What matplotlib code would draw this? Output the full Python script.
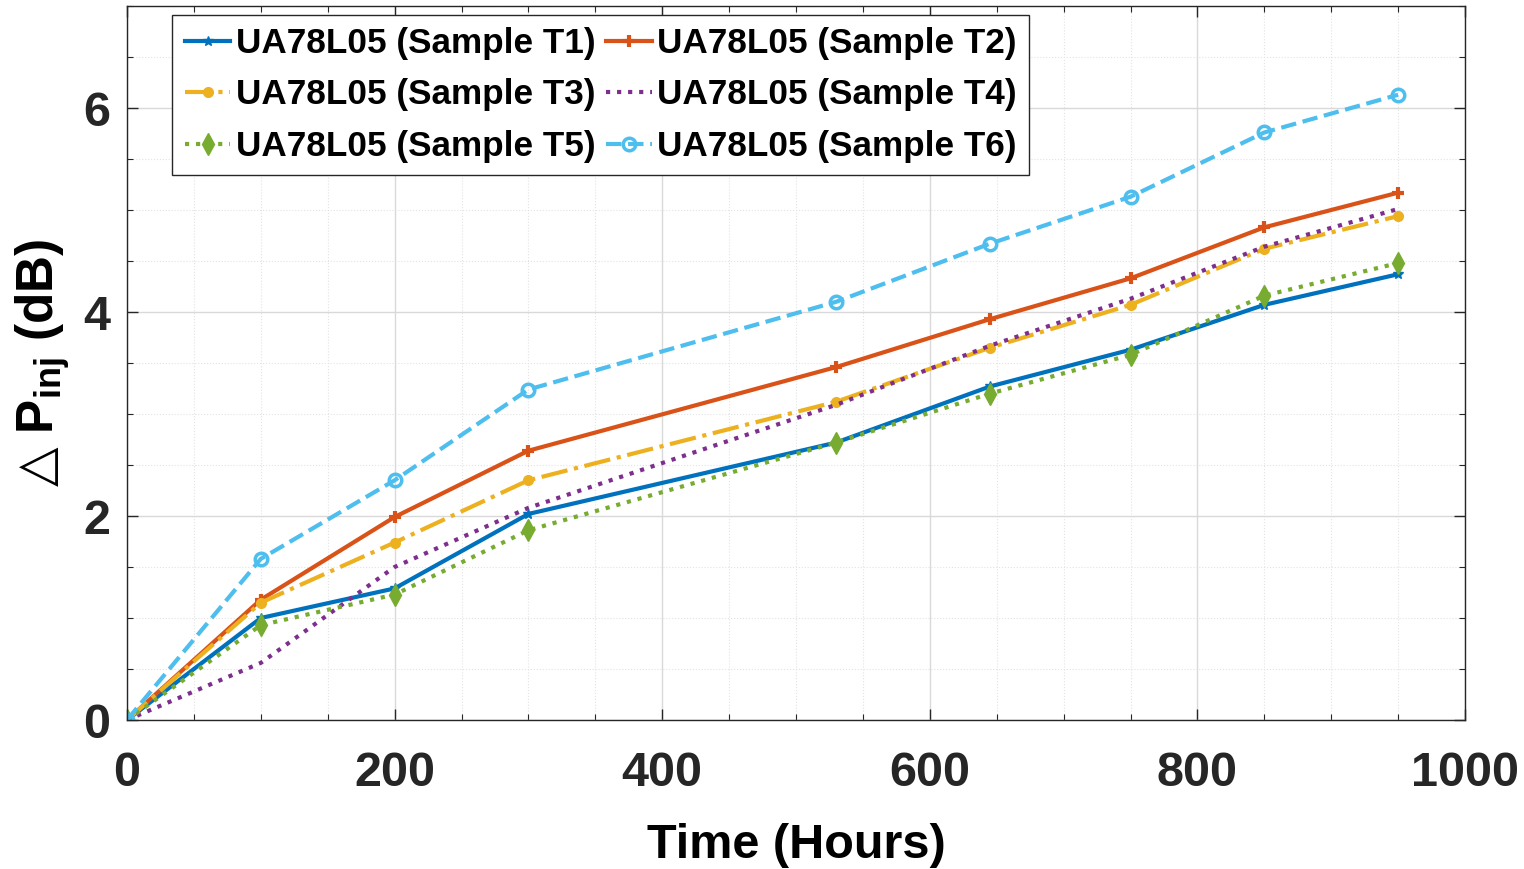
import numpy as np
import matplotlib.pyplot as plt
from matplotlib.ticker import MultipleLocator

plt.rcParams['font.family'] = ['Liberation Sans', 'DejaVu Sans']
plt.rcParams['font.weight'] = 'bold'
plt.rcParams['mathtext.fontset'] = 'custom'
plt.rcParams['mathtext.rm'] = 'Liberation Sans:bold'
plt.rcParams['mathtext.bf'] = 'Liberation Sans:bold'
plt.rcParams['mathtext.sf'] = 'DejaVu Sans'

hours = [0, 100, 200, 300, 530, 645, 750, 850, 950]

t1 = [0, 1.00, 1.29, 2.02, 2.72, 3.27, 3.63, 4.07, 4.37]
t2 = [0, 1.18, 1.99, 2.64, 3.46, 3.93, 4.33, 4.83, 5.17]
t3 = [0, 1.15, 1.74, 2.35, 3.12, 3.65, 4.07, 4.62, 4.94]
t4 = [0, 0.56, 1.50, 2.08, 3.09, 3.67, 4.13, 4.64, 5.01]
t5 = [0, 0.93, 1.23, 1.86, 2.72, 3.20, 3.58, 4.16, 4.48]
t6 = [0, 1.58, 2.35, 3.24, 4.10, 4.67, 5.13, 5.76, 6.13]

labels = ['UA78L05 (Sample T1)', 'UA78L05 (Sample T2)', 'UA78L05 (Sample T3)',
          'UA78L05 (Sample T4)', 'UA78L05 (Sample T5)', 'UA78L05 (Sample T6)']

fig = plt.figure(figsize=(15.24, 8.69), dpi=100)
ax = fig.add_axes([127 / 1524, 149 / 869, 1338 / 1524, 714 / 869])

lw = 3
lines = []
lines += ax.plot(hours, t1, '-', color='#0072BD', lw=lw, marker='*', ms=7, label=labels[0])
lines += ax.plot(hours, t2, '-', color='#D95319', lw=lw, marker='+', ms=9, mew=3, label=labels[1])
lines += ax.plot(hours, t3, '-.', color='#EDB120', lw=lw, marker='.', ms=14, label=labels[2])
lines += ax.plot(hours, t4, ':', color='#7E2F8E', lw=lw, label=labels[3])
lines += ax.plot(hours, t5, ':', color='#77AC30', lw=lw, marker='d', ms=11, label=labels[4])
lines += ax.plot(hours, t6, '--', color='#4DBEEE', lw=lw, marker='o', ms=9, mew=2.5,
                 mfc='none', label=labels[5])

ax.set_xlim(0, 1000)
ax.set_ylim(0, 7)
ax.xaxis.set_major_locator(MultipleLocator(200))
ax.xaxis.set_minor_locator(MultipleLocator(50))
ax.yaxis.set_major_locator(MultipleLocator(2))
ax.yaxis.set_minor_locator(MultipleLocator(0.5))

ax.grid(which='major', color='#d9d9d9', lw=1, ls='-')
ax.grid(which='minor', color='#e3e3e3', lw=0.8, ls=':')
ax.tick_params(which='both', direction='in', top=True, right=True, colors='#262626')
ax.tick_params(which='major', length=8, width=1, labelsize=35)
ax.tick_params(axis='x', which='major', pad=22)
ax.tick_params(axis='y', which='major', pad=12)
ax.tick_params(which='minor', length=4, width=0.8)
for lab in ax.get_xticklabels() + ax.get_yticklabels():
    lab.set_fontweight('bold')
for s in ax.spines.values():
    s.set_color('#262626')
    s.set_linewidth(1)

ax.set_xlabel('Time (Hours)', fontsize=35, fontweight='bold', labelpad=20)
ax.set_ylabel('$\\mathsf{\u25b3}$ P$_{\\mathbf{inj}}$ (dB)', fontsize=37,
              fontweight='bold', labelpad=8)

# row-major legend order like the original
order = [0, 2, 4, 1, 3, 5]
leg = ax.legend([lines[i] for i in order], [labels[i] for i in order],
                ncol=2, loc='upper left', bbox_to_anchor=(0.034, 0.988),
                fontsize=25.3, handlelength=1.3, handletextpad=0.15,
                columnspacing=0.3, labelspacing=0.53, borderpad=0.35,
                borderaxespad=0, fancybox=False, framealpha=1,
                edgecolor='#262626')
leg.get_frame().set_linewidth(1)

fig.savefig('out.png', dpi=100)
